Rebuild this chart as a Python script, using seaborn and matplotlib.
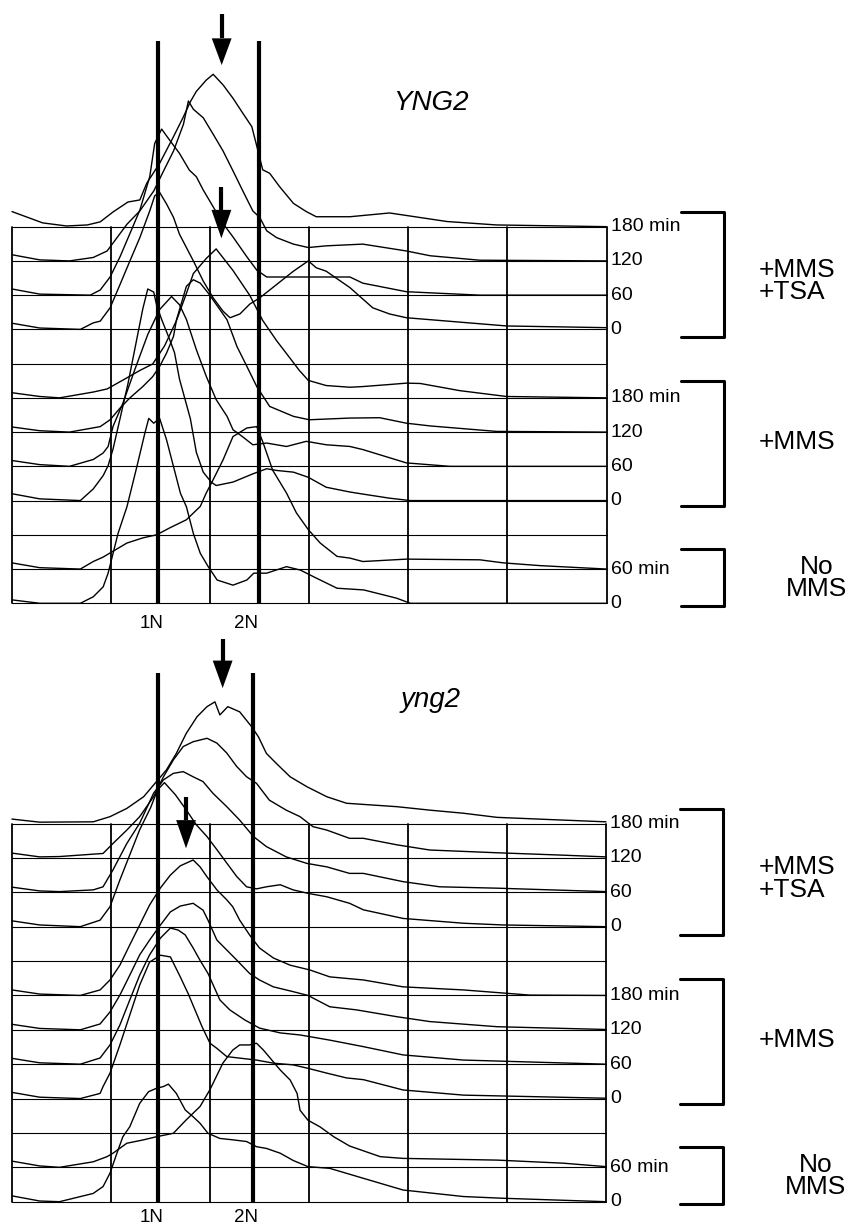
import numpy as np
import seaborn as sns
import matplotlib.pyplot as plt

sns.set_style('white')
plt.rcParams['font.family'] = ['Liberation Sans', 'DejaVu Sans']
plt.rcParams['text.color'] = 'black'

# rows of the stacked histograms: grid line index (11 = top row, 0 = bottom row)
row_levels = [11, 10, 9, 8, 6, 5, 4, 3, 1, 0]
row_labels = ['180 min', '120', '60', '0', '180 min', '120', '60', '0', '60 min', '0']
group_labels = ['+MMS\n+TSA', '+MMS', 'No\nMMS']
group_y = [9.4, 4.7, 0.74]
brackets = [(11.42, 7.77), (6.48, 2.83), (1.6, -0.07)]

# ---- YNG2 (top panel): DNA content channel vs. relative cell count ----
wt_tsa180_ch = [0, 31, 55, 76, 89, 102, 117, 129, 136, 149, 163, 173, 180, 186, 196, 203, 213, 223, 233, 242,
                248, 253, 260, 270, 284, 297, 307, 341, 381, 439, 489, 600]
wt_tsa180_h = [0.44, 0.11, 0.02, 0.05, 0.14, 0.43, 0.72, 0.78, 1.27, 1.85, 2.63, 3.21, 3.65, 3.95, 4.28, 4.45,
               4.14, 3.75, 3.31, 2.92, 2.24, 1.66, 1.56, 1.17, 0.68, 0.44, 0.29, 0.29, 0.40, 0.15, 0.05, 0.0]
wt_tsa120_ch = [0, 28, 58, 82, 96, 106, 116, 129, 143, 153, 163, 173, 178, 183, 193, 203, 213, 223, 233, 243,
                250, 257, 267, 284, 299, 317, 354, 398, 422, 472, 600]
wt_tsa120_h = [0.18, 0.03, 0, 0.1, 0.29, 0.68, 1.07, 1.46, 2.04, 2.63, 3.21, 3.99, 4.67, 4.43, 4.18, 3.70, 3.21,
               2.63, 2.04, 1.46, 1.27, 0.88, 0.68, 0.49, 0.39, 0.44, 0.49, 0.29, 0.15, 0.02, 0]
wt_tsa60_ch = [0, 28, 79, 89, 99, 109, 119, 129, 139, 144, 151, 159, 169, 179, 186, 193, 203, 213, 223, 237,
               247, 257, 299, 341, 354, 398, 472, 600]
wt_tsa60_h = [0.18, 0.03, 0, 0.15, 0.53, 1.12, 1.80, 2.48, 3.46, 4.43, 4.85, 4.53, 4.14, 3.65, 3.46, 3.07, 2.58,
              2.09, 1.70, 1.12, 0.73, 0.53, 0.53, 0.53, 0.35, 0.10, 0, 0]
wt_tsa0_ch = [0, 28, 69, 82, 89, 99, 109, 119, 129, 139, 144, 149, 156, 163, 169, 176, 183, 193, 203, 213, 220,
              230, 240, 250, 267, 284, 299, 307, 317, 341, 364, 381, 398, 499, 600]
wt_tsa0_h = [0.18, 0.04, 0, 0.19, 0.24, 0.63, 1.31, 2.0, 2.68, 3.46, 3.90, 4.0, 3.66, 3.27, 2.78, 2.39, 2.0, 1.41,
             0.92, 0.53, 0.34, 0.45, 0.74, 0.92, 1.31, 1.70, 2.0, 1.80, 1.70, 1.22, 0.63, 0.45, 0.34, 0.10, 0.05]
wt_mms180_ch = [0, 28, 48, 82, 96, 112, 129, 142, 154, 166, 176, 183, 196, 206, 223, 240, 253, 267, 280, 290,
                299, 317, 341, 354, 381, 398, 412, 452, 499, 600]
wt_mms180_h = [0.15, 0.04, 0, 0.17, 0.26, 0.52, 0.80, 0.99, 1.52, 2.26, 3.05, 3.63, 4.07, 4.35, 3.72, 2.99, 2.26,
               1.67, 1.18, 0.80, 0.51, 0.36, 0.31, 0.33, 0.39, 0.43, 0.42, 0.21, 0.04, 0]
wt_mms120_ch = [0, 28, 58, 89, 99, 109, 119, 132, 142, 149, 156, 163, 166, 176, 183, 190, 198, 210, 217, 227,
                237, 247, 260, 284, 300, 341, 371, 398, 422, 489, 600]
wt_mms120_h = [0.15, 0.04, 0, 0.16, 0.36, 0.70, 1.0, 1.33, 1.62, 1.92, 2.31, 2.80, 3.28, 4.26, 4.45, 4.35, 4.06,
               3.57, 3.28, 2.50, 1.92, 1.33, 0.75, 0.46, 0.36, 0.41, 0.42, 0.26, 0.18, 0.02, 0]
wt_mms60_ch = [0, 28, 58, 82, 92, 97, 102, 112, 124, 137, 149, 161, 169, 176, 186, 196, 206, 217, 223, 232, 243,
               257, 277, 297, 317, 341, 354, 398, 442, 600]
wt_mms60_h = [0.17, 0.05, 0, 0.2, 0.39, 0.58, 1.17, 1.85, 2.83, 3.85, 4.58, 4.96, 4.72, 4.29, 3.41, 2.63, 1.95,
              1.46, 1.07, 0.88, 0.63, 0.68, 0.58, 0.73, 0.63, 0.58, 0.49, 0.10, 0, 0]
wt_mms0_ch = [0, 28, 69, 82, 92, 97, 102, 109, 117, 125, 132, 137, 143, 146, 151, 159, 164, 169, 180, 186, 193,
              201, 206, 223, 243, 257, 267, 284, 299, 317, 341, 354, 381, 402, 600]
wt_mms0_h = [0.2, 0.05, 0, 0.34, 0.73, 1.02, 1.51, 2.39, 3.41, 4.58, 5.6, 6.18, 6.09, 5.7, 5.29, 4.71, 4.32,
             3.55, 2.39, 1.41, 0.83, 0.54, 0.44, 0.54, 0.78, 0.93, 0.88, 0.83, 0.68, 0.39, 0.25, 0.19, 0.07, 0, 0]
wt_nomms60_ch = [0, 28, 69, 82, 92, 99, 116, 132, 146, 159, 176, 190, 196, 203, 213, 223, 237, 247, 253, 263,
                 277, 287, 299, 311, 328, 341, 354, 398, 472, 496, 533, 600]
wt_nomms60_h = [0.18, 0.04, 0, 0.22, 0.35, 0.47, 0.76, 0.91, 1.0, 1.2, 1.44, 1.83, 2.22, 2.61, 3.19, 3.87, 4.12,
                4.16, 3.72, 2.89, 2.22, 1.64, 1.15, 0.76, 0.37, 0.32, 0.22, 0.29, 0.27, 0.18, 0.10, 0]
wt_nomms0_ch = [0, 28, 69, 82, 92, 97, 102, 107, 116, 126, 134, 138, 143, 149, 156, 163, 170, 176, 183, 190, 198,
                207, 223, 237, 244, 257, 277, 291, 304, 328, 355, 388, 402, 600]
wt_nomms0_h = [0.1, 0, 0, 0.19, 0.48, 0.88, 1.46, 2.04, 2.82, 3.99, 4.96, 5.40, 5.26, 5.40, 4.77, 3.99, 3.21,
               2.82, 2.04, 1.46, 1.07, 0.68, 0.53, 0.68, 0.88, 0.88, 1.07, 0.97, 0.78, 0.44, 0.39, 0.15, 0, 0]

# ---- yng2 (bottom panel) ----
mut_tsa180_ch = [0, 28, 82, 99, 116, 133, 143, 156, 166, 176, 187, 197, 205, 210, 218, 230, 242, 249, 257, 267,
                 281, 298, 318, 338, 389, 422, 456, 490, 540, 600]
mut_tsa180_h = [0.13, 0.04, 0.05, 0.20, 0.44, 0.78, 1.12, 1.56, 2.04, 2.62, 3.11, 3.40, 3.54, 3.16, 3.40, 3.25,
                2.82, 2.52, 2.04, 1.75, 1.36, 1.07, 0.78, 0.59, 0.49, 0.39, 0.30, 0.18, 0.12, 0.05]
mut_tsa120_ch = [0, 28, 48, 92, 102, 116, 129, 143, 153, 163, 173, 183, 197, 207, 217, 227, 237, 247, 260, 277,
                 291, 304, 318, 341, 355, 389, 422, 490, 557, 600]
mut_tsa120_h = [0.14, 0.03, 0.04, 0.13, 0.42, 0.81, 1.20, 1.78, 2.36, 2.85, 3.24, 3.38, 3.48, 3.34, 3.05, 2.66,
                2.36, 2.17, 1.68, 1.39, 1.20, 0.91, 0.81, 0.57, 0.57, 0.38, 0.23, 0.15, 0.08, 0.03]
mut_tsa60_ch = [0, 28, 48, 82, 92, 102, 116, 129, 143, 153, 163, 173, 183, 193, 203, 217, 230, 244, 257, 277,
                298, 318, 341, 355, 395, 432, 490, 600]
mut_tsa60_h = [0.15, 0.04, 0.02, 0.07, 0.16, 0.65, 1.42, 2.01, 2.88, 3.27, 3.46, 3.51, 3.36, 3.22, 2.88, 2.49,
               2.10, 1.62, 1.33, 1.03, 0.84, 0.74, 0.55, 0.55, 0.31, 0.16, 0.12, 0.02]
mut_tsa0_ch = [0, 28, 69, 89, 99, 109, 119, 129, 140, 147, 154, 165, 176, 186, 197, 207, 217, 227, 237, 247, 257,
               271, 284, 299, 318, 341, 355, 395, 456, 496, 600]
mut_tsa0_h = [0.17, 0.05, 0, 0.19, 0.58, 1.36, 2.09, 2.82, 3.46, 3.98, 4.19, 3.84, 3.40, 2.97, 2.62, 2.24, 1.85,
              1.46, 1.16, 1.10, 1.16, 1.22, 1.07, 0.97, 0.87, 0.68, 0.49, 0.24, 0.10, 0.05, 0]
mut_mms180_ch = [0, 28, 69, 89, 99, 109, 119, 129, 139, 150, 160, 170, 183, 190, 197, 207, 217, 223, 230, 240,
                 250, 264, 281, 301, 321, 355, 395, 456, 523, 600]
mut_mms180_h = [0.16, 0.04, 0, 0.16, 0.45, 0.88, 1.47, 2.05, 2.63, 3.13, 3.50, 3.77, 3.94, 3.74, 3.45, 3.07,
                2.78, 2.58, 2.19, 1.76, 1.38, 1.09, 0.88, 0.74, 0.54, 0.45, 0.25, 0.16, 0.01, 0]
mut_mms120_ch = [0, 28, 69, 89, 99, 109, 119, 129, 139, 150, 160, 170, 183, 193, 198, 207, 217, 227, 240, 250,
                 264, 284, 299, 321, 348, 389, 422, 490, 600]
mut_mms120_h = [0.16, 0.04, 0, 0.17, 0.52, 1.01, 1.59, 2.18, 2.61, 3.05, 3.43, 3.60, 3.68, 3.48, 3.19, 2.61,
                2.32, 2.03, 1.64, 1.45, 1.25, 1.11, 1.00, 0.67, 0.58, 0.38, 0.24, 0.09, 0.01]
mut_mms60_ch = [0, 28, 69, 89, 99, 109, 119, 129, 139, 150, 160, 168, 175, 183, 190, 198, 210, 220, 235, 250,
                271, 291, 321, 355, 395, 456, 600]
mut_mms60_h = [0.17, 0.04, 0, 0.18, 0.56, 1.14, 1.87, 2.59, 3.18, 3.67, 3.96, 3.90, 3.76, 3.38, 3.02, 2.64, 1.87,
               1.58, 1.29, 1.05, 0.91, 0.85, 0.70, 0.51, 0.27, 0.12, 0]
mut_mms0_ch = [0, 28, 69, 89, 92, 99, 109, 119, 129, 139, 150, 160, 170, 178, 185, 192, 200, 207, 217, 247, 264,
               284, 299, 318, 338, 355, 395, 456, 600]
mut_mms0_h = [0.18, 0.04, 0, 0.15, 0.35, 0.74, 1.56, 2.43, 3.30, 3.97, 4.17, 4.12, 3.54, 3.05, 2.57, 2.09, 1.61,
              1.46, 1.22, 1.12, 1.03, 0.98, 0.88, 0.74, 0.60, 0.55, 0.25, 0.10, 0.01]
mut_nomms60_ch = [0, 28, 48, 82, 96, 102, 116, 133, 146, 163, 176, 190, 200, 213, 223, 230, 240, 247, 254, 271,
                  281, 288, 291, 299, 311, 325, 341, 372, 395, 490, 557, 600]
mut_nomms60_h = [0.18, 0.04, 0, 0.16, 0.31, 0.41, 0.70, 0.80, 0.89, 0.99, 1.38, 1.77, 2.26, 3.03, 3.41, 3.56,
                 3.56, 3.61, 3.41, 2.83, 2.54, 2.15, 1.66, 1.37, 1.18, 0.89, 0.62, 0.31, 0.26, 0.21, 0.12, 0.02]
mut_nomms0_ch = [0, 28, 48, 82, 92, 99, 106, 112, 119, 129, 138, 146, 153, 158, 166, 175, 183, 190, 198, 210,
                 223, 237, 247, 257, 271, 284, 299, 321, 355, 395, 456, 496, 600]
mut_nomms0_h = [0.17, 0.02, 0, 0.24, 0.44, 0.83, 1.41, 1.89, 2.18, 2.86, 3.20, 3.30, 3.35, 3.42, 3.15, 2.67,
                2.47, 2.28, 1.99, 1.84, 1.80, 1.75, 1.60, 1.55, 1.41, 1.20, 1.02, 0.97, 0.68, 0.34, 0.15, 0.10, 0]

wt_curves = [(wt_tsa180_ch, wt_tsa180_h), (wt_tsa120_ch, wt_tsa120_h), (wt_tsa60_ch, wt_tsa60_h),
             (wt_tsa0_ch, wt_tsa0_h), (wt_mms180_ch, wt_mms180_h), (wt_mms120_ch, wt_mms120_h),
             (wt_mms60_ch, wt_mms60_h), (wt_mms0_ch, wt_mms0_h), (wt_nomms60_ch, wt_nomms60_h),
             (wt_nomms0_ch, wt_nomms0_h)]
mut_curves = [(mut_tsa180_ch, mut_tsa180_h), (mut_tsa120_ch, mut_tsa120_h), (mut_tsa60_ch, mut_tsa60_h),
              (mut_tsa0_ch, mut_tsa0_h), (mut_mms180_ch, mut_mms180_h), (mut_mms120_ch, mut_mms120_h),
              (mut_mms60_ch, mut_mms60_h), (mut_mms0_ch, mut_mms0_h), (mut_nomms60_ch, mut_nomms60_h),
              (mut_nomms0_ch, mut_nomms0_h)]


def draw_panel(ax, curves, title, one_n, two_n, thick_top, arrows, n_label_y):
    # grid of baselines and channel divisions
    for lev in range(12):
        ax.plot([0, 600], [lev, lev], color='black', lw=0.8)
    for xv in range(0, 601, 100):
        ax.plot([xv, xv], [0, 11], color='black', lw=1.3)
    for xv in (one_n, two_n):
        ax.plot([xv, xv], [0, thick_top], color='black', lw=3.0, solid_capstyle='butt')

    # stacked histograms
    for (ch, h), lev in zip(curves, row_levels):
        sns.lineplot(x=ch, y=np.array(h) + lev, ax=ax, color='black', linewidth=1.0,
                     sort=False, estimator=None)

    # arrows marking peaks
    for ax_x, y_top, y_head, y_tip in arrows:
        ax.plot([ax_x, ax_x], [y_top, y_head], color='black', lw=3.0, solid_capstyle='butt')
        ax.fill([ax_x - 10, ax_x + 10, ax_x], [y_head, y_head, y_tip], color='black', lw=0)

    # labels
    for lab, lev in zip(row_labels, row_levels):
        ax.text(604, lev, lab, ha='left', va='center', fontsize=14)
    for (y0, y1), lab, gy in zip(brackets, group_labels, group_y):
        ax.plot([675, 718, 718, 675], [y0, y0, y1, y1], color='black', lw=2.2)
        if lab.startswith('No'):
            ax.text(812, gy, lab, ha='center', va='center', fontsize=19, linespacing=0.9)
        else:
            ax.text(754, gy, lab, ha='left', va='center', fontsize=19, linespacing=0.9)
    ax.text(141, n_label_y, '1N', ha='center', va='center', fontsize=13.5)
    ax.text(236, n_label_y, '2N', ha='center', va='center', fontsize=13.5)
    ax.text(423, 14.6, title, ha='center', va='center', fontsize=20, style='italic')
    ax.axis('off')


fig = plt.figure(figsize=(8.49, 12.27), dpi=100)
ax_top = fig.add_axes([0, 597 / 1227, 1, 630 / 1227])
ax_bot = fig.add_axes([0, 0, 1, 597 / 1227])

draw_panel(ax_top, wt_curves, 'YNG2', 147.3, 249.7, 16.41,
           [(211.6, 17.21, 16.5, 15.72), (211.3, 12.17, 11.49, 10.66)], -0.58)
ax_top.set_xlim(-12.1, 844.6)
ax_top.set_ylim(-0.78, 17.62)

draw_panel(ax_bot, mut_curves, 'yng2', 147.8, 243.7, 15.38,
           [(212.8, 16.38, 15.74, 14.94), (175.8, 11.78, 11.1, 10.28)], -0.45)
ax_bot.set_xlim(-12.1, 845.5)
ax_bot.set_ylim(-0.736, 16.63)

fig.savefig('out.png', dpi=100, facecolor='white')
